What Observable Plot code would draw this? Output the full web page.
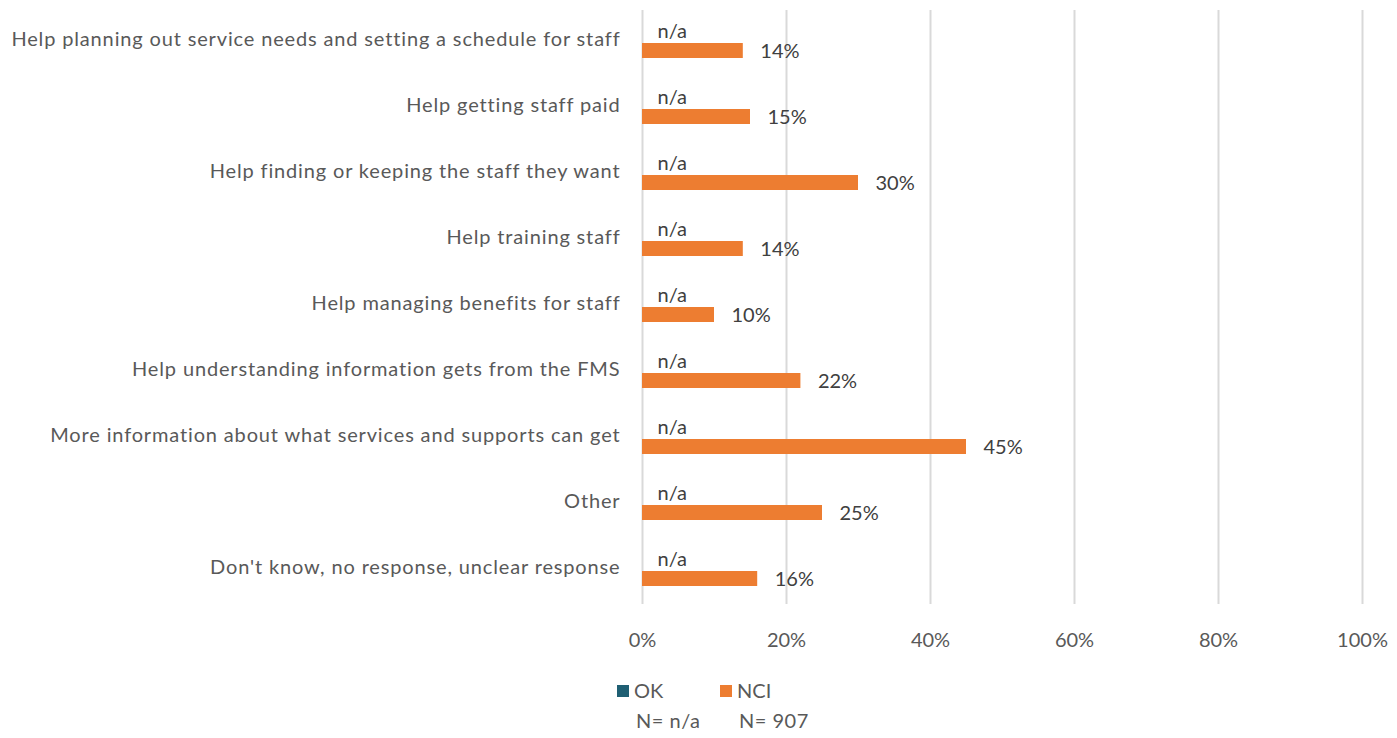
<!DOCTYPE html>
<html>
<head>
<meta charset="utf-8">
<script src="https://cdn.jsdelivr.net/npm/d3@7"></script>
<script src="https://cdn.jsdelivr.net/npm/@observablehq/plot@0.6"></script>
<style>
  body { margin: 0; background: #fff; font-family: Lato, "Open Sans", sans-serif; }
  #chart svg { display: block; }
  .legend { position: relative; height: 78px; font-family: Lato, sans-serif; font-size: 20px; color: #595959; }
  .legend .item { position: absolute; white-space: nowrap; }
  .legend .sw { display: inline-block; width: 12px; height: 12px; margin-right: 5px; vertical-align: 1px; }
</style>
</head>
<body>
<div id="chart"></div>
<div class="legend" id="legend"></div>
<script>
const categories = [
  "Help planning out service needs and setting a schedule for staff",
  "Help getting staff paid",
  "Help finding or keeping the staff they want",
  "Help training staff",
  "Help managing benefits for staff",
  "Help understanding information gets from the FMS",
  "More information about what services and supports can get",
  "Other",
  "Don't know, no response, unclear response"
];
const seriesNames = ["OK", "NCI"];
const seriesN = ["n/a", "907"];
const okValues = [null, null, null, null, null, null, null, null, null];
const nciValues = [14, 15, 30, 14, 10, 22, 45, 25, 16];
const xTicks = [0, 20, 40, 60, 80, 100];
const colors = ["#1F5F73", "#ED7D31"];

const rows = [];
categories.forEach((c, i) => {
  rows.push({cat: c, series: "OK", value: okValues[i]});
  rows.push({cat: c, series: "NCI", value: nciValues[i]});
});
const withVal = rows.filter(d => d.value != null);
const noVal = rows.filter(d => d.value == null);

const chart = Plot.plot({
  width: 1397,
  height: 660,
  marginLeft: 642,
  marginRight: 35,
  marginTop: 8,
  marginBottom: 55,
  style: {fontFamily: "Lato, sans-serif", fontSize: "20px", color: "#595959"},
  x: {domain: [0, 100], ticks: xTicks, tickFormat: d => d + "%", tickSize: 0, tickPadding: 28, label: null},
  fy: {domain: categories, padding: 0, label: null, tickSize: 0, tickPadding: 22},
  y: {domain: seriesNames, paddingInner: 0.05, paddingOuter: 1, axis: null},
  color: {domain: seriesNames, range: colors},
  marks: [
    Plot.gridX(xTicks, {stroke: "#d9d9d9", strokeOpacity: 1, strokeWidth: 2}),
    Plot.barX(withVal, {x: "value", y: "series", fy: "cat", fill: "series"}),
    Plot.text(withVal, {x: "value", y: "series", fy: "cat", text: d => d.value + "%",
      textAnchor: "start", dx: 17, dy: 1, fill: "#404040", fontSize: 20}),
    Plot.text(noVal, {x: () => 0, y: "series", fy: "cat", text: () => "n/a",
      textAnchor: "start", dx: 15, dy: -3, fill: "#404040", fontSize: 20}),
    Plot.axisFy({anchor: "left", tickSize: 0, tickPadding: 22, dy: -4, fontSize: 20, fill: "#595959", label: null})
  ]
});
chart.querySelectorAll("[aria-label='fy-axis tick label'] text").forEach(t => t.setAttribute("letter-spacing", "0.85"));
document.getElementById("chart").appendChild(chart);

const legend = document.getElementById("legend");
const lx = [617, 720];
seriesNames.forEach((s, i) => {
  const a = document.createElement("div");
  a.className = "item";
  a.style.left = lx[i] + "px";
  a.style.top = "18px";
  a.innerHTML = `<span class="sw" style="background:${colors[i]}"></span>${s}`;
  legend.appendChild(a);
  const b = document.createElement("div");
  b.className = "item";
  b.style.left = (lx[i] + 19) + "px";
  b.style.top = "48px";
  b.style.letterSpacing = "0.5px";
  b.textContent = "N= " + seriesN[i];
  legend.appendChild(b);
});
</script>
</body>
</html>
